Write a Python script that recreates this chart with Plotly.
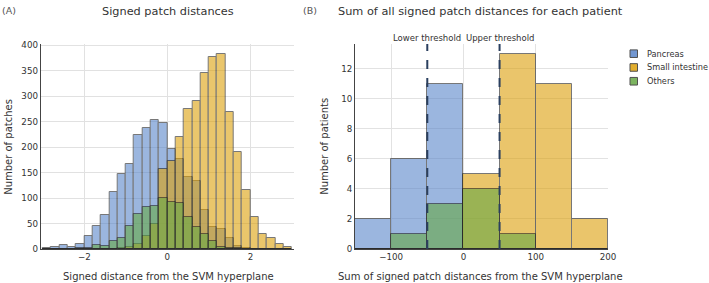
import plotly.graph_objects as go

# ---------------- data ----------------
# Panel A: signed patch distances, bins of width 0.2 from -3.0 to 3.0
left_bin_edges = [-3.0, -2.8, -2.6, -2.4, -2.2, -2.0, -1.8, -1.6, -1.4, -1.2,
                  -1.0, -0.8, -0.6, -0.4, -0.2, 0.0, 0.2, 0.4, 0.6, 0.8,
                  1.0, 1.2, 1.4, 1.6, 1.8, 2.0, 2.2, 2.4, 2.6, 2.8, 3.0]
pancreas_a = [1, 3, 7, 4, 10, 25, 46, 67, 112, 147,
              167, 224, 238, 253, 247, 196, 176, 142, 134, 77,
              44, 40, 22, 5, 1, 0, 0, 0, 0, 0]
small_int_a = [0, 0, 0, 0, 0, 0, 0, 0, 0, 1,
               3, 10, 25, 50, 157, 172, 220, 275, 291, 345,
               376, 383, 269, 191, 116, 63, 30, 22, 10, 3]
others_a = [0, 0, 0, 0, 1, 2, 7, 6, 16, 22,
            46, 68, 82, 84, 101, 92, 91, 63, 44, 30,
            16, 4, 2, 1, 0, 0, 0, 0, 0, 0]

# Panel B: sum of signed patch distances per patient, bins of width 50
right_bin_edges = [-150, -100, -50, 0, 50, 100, 150, 200]
pancreas_b = [2, 6, 11, 0, 0, 0, 0]
small_int_b = [0, 0, 0, 5, 13, 11, 2]
others_b = [0, 1, 3, 4, 1, 0, 0]

thresholds = [-50, 50]
threshold_labels = ["Lower threshold", "Upper threshold"]

series_names = ["Pancreas", "Small intestine", "Others"]
colors = ["#5A86CA", "#DDA00A", "#66A845"]

left_xticks = [-2, 0, 2]
left_yticks = [0, 50, 100, 150, 200, 250, 300, 350, 400]
right_xticks = [-100, 0, 100, 200]
right_yticks = [0, 2, 4, 6, 8, 10, 12]

# ---------------- figure ----------------
W, H = 709, 283
FONT = "DejaVu Sans"
TOP, BOTTOM = 44, 249.3


def centers(edges):
    return [(a + b) / 2 for a, b in zip(edges[:-1], edges[1:])]


def widths(edges):
    return [b - a for a, b in zip(edges[:-1], edges[1:])]


def py(Y):
    return (BOTTOM - Y) / (BOTTOM - TOP)


fig = go.Figure()
for name, vals, col in zip(series_names, [pancreas_a, small_int_a, others_a], colors):
    fig.add_trace(go.Bar(
        x=centers(left_bin_edges), y=vals, width=widths(left_bin_edges),
        name=name, legendgroup=name, opacity=0.6, showlegend=False,
        marker=dict(color=col, line=dict(color="#1E1E1E", width=1)),
        xaxis="x", yaxis="y"))
for name, vals, col in zip(series_names, [pancreas_b, small_int_b, others_b], colors):
    fig.add_trace(go.Bar(
        x=centers(right_bin_edges), y=vals, width=widths(right_bin_edges),
        name=name, legendgroup=name, showlegend=False, opacity=0.6,
        marker=dict(color=col, line=dict(color="#1E1E1E", width=1)),
        xaxis="x2", yaxis="y2"))

axis_common = dict(showline=True, linecolor="#444", linewidth=1,
                   gridcolor="#E2E2E2", gridwidth=1, zeroline=False,
                   ticks="", tickfont=dict(family=FONT, size=8.7, color="#333"),
                   mirror=False)

fig.update_layout(
    width=W, height=H,
    margin=dict(l=0, r=0, t=TOP, b=H - BOTTOM, pad=0, autoexpand=False),
    paper_bgcolor="white", plot_bgcolor="white",
    barmode="overlay", bargap=0,
    font=dict(family=FONT, color="#333"),
    xaxis=dict(domain=[40.7 / W, 294 / W], range=[-3.05, 3.05],
               tickvals=left_xticks, anchor="y", **axis_common),
    yaxis=dict(domain=[0, 1], range=[0, 402], tickvals=left_yticks,
               anchor="x", **axis_common),
    xaxis2=dict(domain=[355 / W, 608 / W], range=[-150, 200],
                tickvals=right_xticks, anchor="y2", **axis_common),
    yaxis2=dict(domain=[0, 1], range=[0, 13.65], tickvals=right_yticks,
                anchor="x2", **axis_common),
    showlegend=False,
)

# threshold lines with labels
for t, lab in zip(thresholds, threshold_labels):
    fig.add_shape(type="line", xref="x2", yref="y2 domain", x0=t, x1=t, y0=0, y1=1,
                  line=dict(color="#2A3F5F", width=2, dash="dash"), layer="above")
    fig.add_annotation(x=t, xref="x2", y=py(38), yref="paper", text=lab,
                       showarrow=False, xanchor="center", yanchor="middle",
                       font=dict(family=FONT, size=8.5, color="#333"))

# legend drawn by hand (swatch + label)
for i, (name, col) in enumerate(zip(series_names, colors)):
    yc = 53.7 + i * 13.8
    fig.add_shape(type="rect", xref="paper", yref="paper",
                  x0=630 / W, x1=637.5 / W, y0=py(yc - 3.8), y1=py(yc + 3.8),
                  fillcolor=col, opacity=0.85, line=dict(color="#333", width=1))
    fig.add_annotation(x=644.5 / W, y=py(yc), xref="paper", yref="paper", text=name,
                       showarrow=False, xanchor="left", yanchor="middle",
                       font=dict(family=FONT, size=8.2, color="#333"))

anns = [
    dict(x=168 / W, y=py(11), text="Signed patch distances", size=11.3),
    dict(x=481 / W, y=py(11), text="Sum of all signed patch distances for each patient", size=11.3),
    dict(x=168 / W, y=py(277), text="Signed distance from the SVM hyperplane", size=10),
    dict(x=481 / W, y=py(277), text="Sum of signed patch distances from the SVM hyperplane", size=10),
]
for a in anns:
    fig.add_annotation(x=a["x"], y=a["y"], xref="paper", yref="paper", text=a["text"],
                       showarrow=False, xanchor="center", yanchor="middle",
                       font=dict(family=FONT, size=a["size"], color="#333"))

fig.add_annotation(x=9 / W, y=py(147), xref="paper", yref="paper", text="Number of patches",
                   showarrow=False, textangle=-90, xanchor="center", yanchor="middle",
                   font=dict(family=FONT, size=10, color="#333"))
fig.add_annotation(x=325 / W, y=py(147), xref="paper", yref="paper", text="Number of patients",
                   showarrow=False, textangle=-90, xanchor="center", yanchor="middle",
                   font=dict(family=FONT, size=10, color="#333"))

fig.add_annotation(x=0, y=py(10), xref="paper", yref="paper", text="(A)",
                   showarrow=False, xanchor="left", yanchor="middle",
                   font=dict(family=FONT, size=9.5, color="#555"))
fig.add_annotation(x=301 / W, y=py(10), xref="paper", yref="paper", text="(B)",
                   showarrow=False, xanchor="left", yanchor="middle",
                   font=dict(family=FONT, size=9.5, color="#555"))

fig.write_html("out.html")
